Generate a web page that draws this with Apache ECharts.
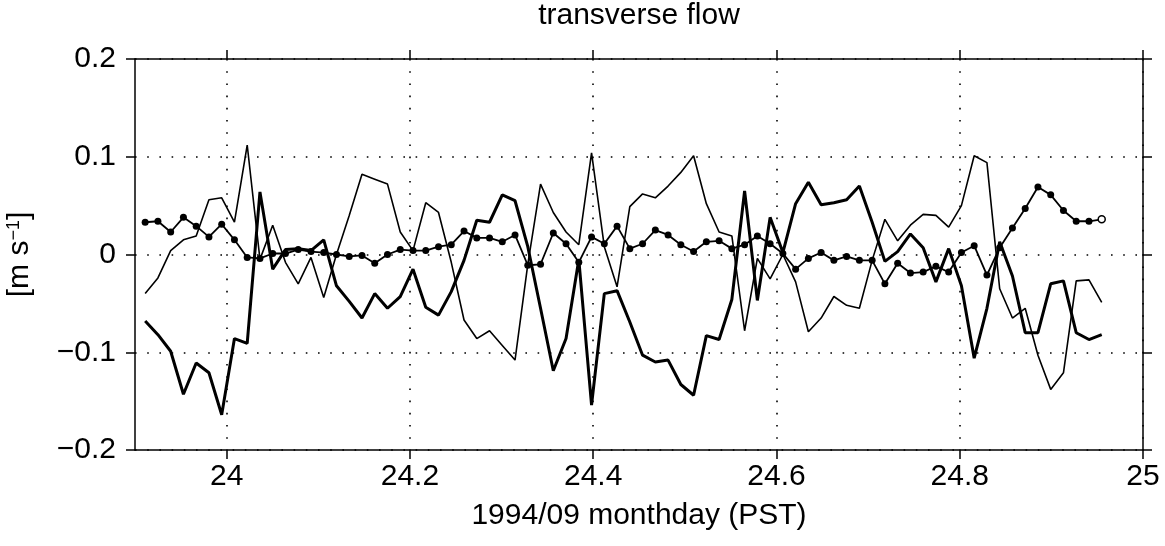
<!DOCTYPE html>
<html><head><meta charset="utf-8">
<script src="https://cdn.jsdelivr.net/npm/echarts@6/dist/echarts.min.js"></script>
<style>html,body{margin:0;padding:0;background:#fff}#c{width:1165px;height:546px}</style>
</head><body><div id="c"></div>
<script>
// sample times: first sample and 20-minute spacing (days)
const t0 = 23.9111;
const dt = 0.013918;
const xTicks = [24, 24.2, 24.4, 24.6, 24.8, 25];
const yTicks = [-0.2, -0.1, 0, 0.1, 0.2];

const thick = [
 -0.068,-0.082,-0.099,-0.143,-0.111,-0.121,-0.164,-0.086,-0.091, 0.064,
 -0.015, 0.005, 0.006, 0.004, 0.015,-0.032,-0.048,-0.065,-0.040,-0.055,
 -0.043,-0.015,-0.054,-0.062,-0.038,-0.006, 0.035, 0.033, 0.061, 0.055,
  0.008,-0.055,-0.119,-0.086,-0.005,-0.154,-0.040,-0.037,-0.069,-0.103,
 -0.110,-0.108,-0.133,-0.144,-0.083,-0.087,-0.046, 0.065,-0.047, 0.038,
  0.002, 0.052, 0.074, 0.051, 0.053, 0.056, 0.070, 0.033,-0.007, 0.003,
  0.021, 0.007,-0.028, 0.006,-0.032,-0.106,-0.055, 0.013,-0.022,-0.080,
 -0.080,-0.030,-0.027,-0.080,-0.087,-0.082
];
const thin = [
 -0.040,-0.024, 0.004, 0.015, 0.019, 0.056, 0.058, 0.033, 0.112,-0.005,
  0.030,-0.008,-0.030,-0.003,-0.044, 0.000, 0.040, 0.082, 0.077, 0.072,
  0.023, 0.004, 0.053, 0.043,-0.008,-0.067,-0.086,-0.078,-0.093,-0.108,
 -0.010, 0.072, 0.043, 0.023, 0.010, 0.104, 0.008,-0.033, 0.049, 0.062,
  0.058, 0.070, 0.084, 0.101, 0.052, 0.023, 0.019,-0.078,-0.004,-0.025,
  0.000,-0.028,-0.079,-0.065,-0.043,-0.052,-0.055,-0.006, 0.036, 0.014,
  0.030, 0.041, 0.040, 0.028, 0.050, 0.101, 0.094,-0.035,-0.065,-0.055,
 -0.103,-0.138,-0.121,-0.027,-0.026,-0.049
];
const dotted = [
  0.033, 0.034, 0.023, 0.038, 0.029, 0.018, 0.031, 0.015,-0.003,-0.004,
  0.001, 0.001, 0.005, 0.003, 0.002, 0.000,-0.002,-0.001,-0.009, 0.000,
  0.005, 0.004, 0.004, 0.008, 0.010, 0.024, 0.017, 0.017, 0.013, 0.020,
 -0.011,-0.010, 0.022, 0.011,-0.008, 0.018, 0.011, 0.029, 0.006, 0.011,
  0.025, 0.020, 0.010, 0.003, 0.013, 0.014, 0.006, 0.010, 0.019, 0.011,
  0.001,-0.015,-0.004, 0.002,-0.006,-0.002,-0.006,-0.006,-0.030,-0.009,
 -0.019,-0.018,-0.012,-0.018, 0.002, 0.009,-0.021, 0.007, 0.027, 0.047,
  0.069, 0.061, 0.045, 0.034, 0.034, 0.036
];

const FONT = '"Liberation Sans", Arial, Helvetica, sans-serif';
const FS = 30;
const toPairs = arr => arr.map((v, i) => [t0 + i * dt, v]);
const dottedData = toPairs(dotted).map((p, i, a) => i === a.length - 1
  ? { value: p, itemStyle: { color: '#fff', borderColor: '#000', borderWidth: 1.5 } }
  : p);

const gridDots = { color: '#000', width: 1.6, type: [1.6, 10.6] };
const axLine = { show: true, onZero: false, lineStyle: { color: '#000', width: 1.5 } };
const tick = { show: true, inside: false, length: 9, lineStyle: { color: '#000', width: 1.5 } };
const fmtY = v => Math.abs(v) < 1e-9 ? '0' : (v < 0 ? '\u2212' : '') + Math.abs(v).toFixed(1);
const fmtX = v => String(+(+v).toFixed(1));

const chart = echarts.init(document.getElementById('c'), null, { renderer: 'canvas' });
chart.setOption({
  animation: false,
  backgroundColor: '#fff',
  textStyle: { fontFamily: FONT },
  title: {
    text: 'transverse flow', left: 639, top: 1, padding: 0, textAlign: 'center',
    textStyle: { fontFamily: FONT, fontSize: FS, fontWeight: 'normal', color: '#000' }
  },
  grid: { left: 135, right: 22, top: 59, bottom: 96, containLabel: false, outerBoundsMode: 'none' },
  xAxis: [
    {
      type: 'value', min: 23.9, max: 25, position: 'bottom',
      axisLine: axLine,
      axisTick: Object.assign({}, tick, { customValues: xTicks }),
      axisLabel: { customValues: xTicks, formatter: fmtX, fontSize: FS, color: '#000', margin: 12, fontFamily: FONT },
      splitLine: { show: true, lineStyle: gridDots },
      name: '1994/09 monthday (PST)', nameLocation: 'middle', nameGap: 51,
      nameTextStyle: { fontSize: FS, color: '#000', fontFamily: FONT }
    },
    {
      type: 'value', min: 23.9, max: 25, position: 'top',
      axisLine: axLine,
      axisTick: Object.assign({}, tick, { customValues: xTicks }),
      axisLabel: { show: false },
      splitLine: { show: false }
    }
  ],
  yAxis: [
    {
      type: 'value', min: -0.2, max: 0.2, interval: 0.1, position: 'left',
      axisLine: axLine, axisTick: tick,
      axisLabel: { formatter: fmtY, fontSize: FS, color: '#000', margin: 19, fontFamily: FONT },
      splitLine: { show: true, lineStyle: gridDots },
      name: '[m s{sup|\u22121}]', nameLocation: 'middle', nameGap: 100, nameRotate: 90,
      nameTextStyle: { fontSize: FS, color: '#000', fontFamily: FONT,
        rich: { sup: { fontSize: 18, verticalAlign: 'top', color: '#000', fontFamily: FONT } } }
    },
    {
      type: 'value', min: -0.2, max: 0.2, interval: 0.1, position: 'right',
      axisLine: axLine, axisTick: tick,
      axisLabel: { show: false }, splitLine: { show: false }
    }
  ],
  series: [
    { type: 'line', name: 'thin', data: toPairs(thin), showSymbol: false, symbol: 'none',
      lineStyle: { color: '#000', width: 1.6 }, z: 3 },
    { type: 'line', name: 'thick', data: toPairs(thick), showSymbol: false, symbol: 'none',
      lineStyle: { color: '#000', width: 3 }, z: 4 },
    { type: 'line', name: 'dotted', data: dottedData, symbol: 'circle', symbolSize: 7, showSymbol: true,
      itemStyle: { color: '#000' }, lineStyle: { color: '#000', width: 1.8 }, z: 5 }
  ]
});
</script></body></html>
